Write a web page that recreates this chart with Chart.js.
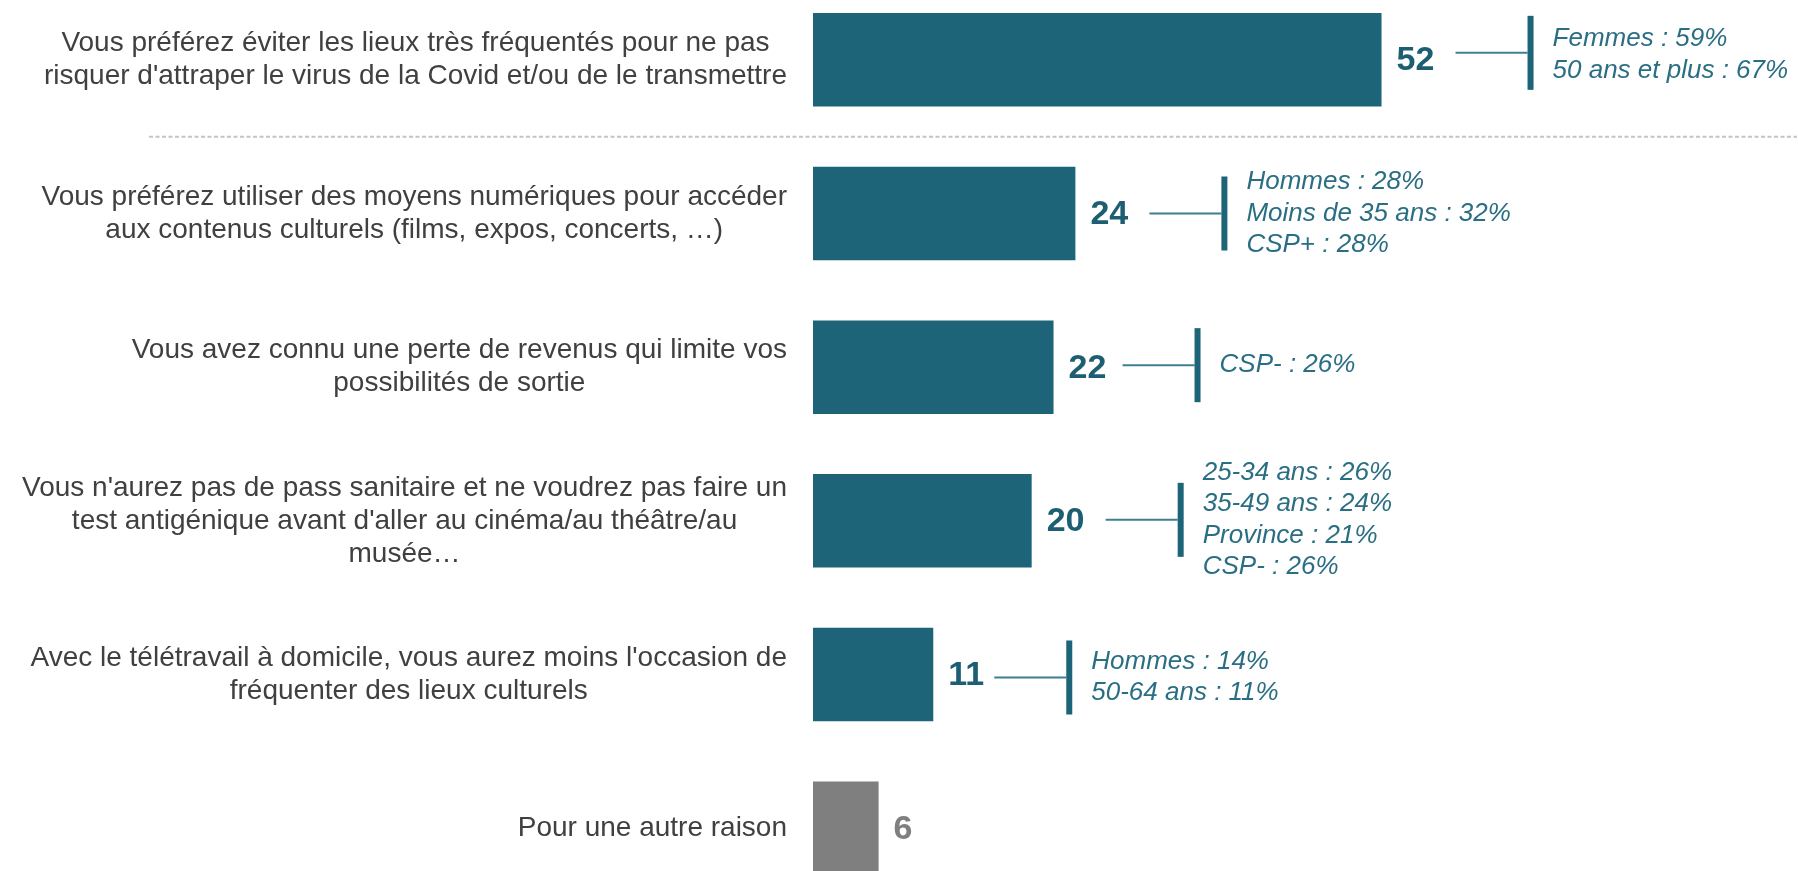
<!DOCTYPE html>
<html lang="fr">
<head>
<meta charset="utf-8">
<script src="https://cdn.jsdelivr.net/npm/chart.js@4.4.1/dist/chart.umd.min.js"></script>
<style>
  html, body { margin: 0; padding: 0; background: #ffffff; overflow: hidden; width: 1798px; height: 871px; }
  #wrap { position: absolute; left: 0; top: -16.6px; width: 1798px; height: 922px; }
</style>
</head>
<body>
<div id="wrap"><canvas id="c"></canvas></div>
<script>
// ---- data ----
const categories = [
  ["Vous préférez éviter les lieux très fréquentés pour ne pas", "risquer d'attraper le virus de la Covid et/ou de le transmettre"],
  ["Vous préférez utiliser des moyens numériques pour accéder", "aux contenus culturels (films, expos, concerts, …)"],
  ["Vous avez connu une perte de revenus qui limite vos", "possibilités de sortie"],
  ["Vous n'aurez pas de pass sanitaire et ne voudrez pas faire un", "test antigénique avant d'aller au cinéma/au théâtre/au", "musée…"],
  ["Avec le télétravail à domicile, vous aurez moins l'occasion de", "fréquenter des lieux culturels"],
  ["Pour une autre raison"]
];
const values = [52, 24, 22, 20, 11, 6];
const callouts = [
  ["Femmes : 59%", "50 ans et plus : 67%"],
  ["Hommes : 28%", "Moins de 35 ans : 32%", "CSP+ : 28%"],
  ["CSP- : 26%"],
  ["25-34 ans : 26%", "35-49 ans : 24%", "Province : 21%", "CSP- : 26%"],
  ["Hommes : 14%", "50-64 ans : 11%"],
  []
];

// ---- styles ----
const TEAL = '#1d6478';
const GREY = '#7f7f7f';
const barColors = values.map((v, i) => i === values.length - 1 ? GREY : TEAL);
const numColors = values.map((v, i) => i === values.length - 1 ? GREY : '#1d5e72');
const calloutDx = [0, 0, -5, 0, -13, 0];
const calloutDy = [-7, 0, -2, -1, 3, 0];
const textDy = [-5, 0, -2, -1, 3, 0];
const FONT = '"Liberation Sans", Arial, Helvetica, sans-serif';

const overlay = {
  id: 'overlay',
  afterDatasetsDraw(chart) {
    const ctx = chart.ctx;
    const area = chart.chartArea;
    const meta = chart.getDatasetMeta(0);
    const yScale = chart.scales.y;
    ctx.save();

    // dashed separator between first and second category
    const ySep = (yScale.getPixelForValue(0) + yScale.getPixelForValue(1)) / 2;
    ctx.strokeStyle = '#c4c4c4';
    ctx.lineWidth = 2;
    ctx.setLineDash([4, 2.5]);
    ctx.beginPath();
    ctx.moveTo(area.left - 664, ySep);
    ctx.lineTo(area.right, ySep);
    ctx.stroke();
    ctx.setLineDash([]);

    // category labels: block right-aligned, lines centred in block
    ctx.font = '28px ' + FONT;
    ctx.fillStyle = '#404040';
    ctx.textBaseline = 'middle';
    ctx.textAlign = 'center';
    const labRight = area.left - 26;
    const lh = 33;
    categories.forEach((lines, i) => {
      const yc = meta.data[i].y;
      const maxW = Math.max(...lines.map(l => ctx.measureText(l).width));
      const cx = labRight - maxW / 2;
      lines.forEach((l, k) => {
        ctx.fillText(l, cx, yc + (k - (lines.length - 1) / 2) * lh);
      });
    });

    // value labels and callouts
    values.forEach((v, i) => {
      const bar = meta.data[i];
      const xe = bar.x, yc = bar.y;
      ctx.font = 'bold 34px ' + FONT;
      ctx.fillStyle = numColors[i];
      ctx.textAlign = 'left';
      ctx.textBaseline = 'middle';
      ctx.fillText(String(v), xe + 15, yc + 1);

      const lines = callouts[i];
      if (!lines.length) return;
      const cy = yc + calloutDy[i];
      const x0 = xe + 74 + calloutDx[i];
      const x1 = x0 + 72;
      ctx.strokeStyle = '#3d7f93';
      ctx.lineWidth = 2;
      ctx.beginPath();
      ctx.moveTo(x0, cy);
      ctx.lineTo(x1, cy);
      ctx.stroke();
      ctx.fillStyle = TEAL;
      ctx.fillRect(x1, cy - 37, 6, 74);

      ctx.font = 'italic 26px ' + FONT;
      ctx.fillStyle = '#2a6e84';
      ctx.textAlign = 'left';
      const sp = 31.5;
      const ty = yc + textDy[i];
      lines.forEach((l, k) => {
        ctx.fillText(l, x1 + 25, ty + (k - (lines.length - 1) / 2) * sp);
      });
    });
    ctx.restore();
  }
};

new Chart(document.getElementById('c'), {
  type: 'bar',
  data: {
    labels: categories.map(c => c.join(' ')),
    datasets: [{
      data: values,
      backgroundColor: barColors,
      borderWidth: 0,
      barPercentage: 0.608,
      categoryPercentage: 1.0
    }]
  },
  options: {
    indexAxis: 'y',
    responsive: true,
    maintainAspectRatio: false,
    animation: false,
    layout: { padding: { left: 813, right: 1, top: 0, bottom: 0 } },
    plugins: { legend: { display: false }, tooltip: { enabled: false } },
    scales: {
      x: { display: false, min: 0, max: 90 },
      y: { display: false, offset: true, grid: { display: false } }
    }
  },
  plugins: [overlay]
});
</script>
</body>
</html>
